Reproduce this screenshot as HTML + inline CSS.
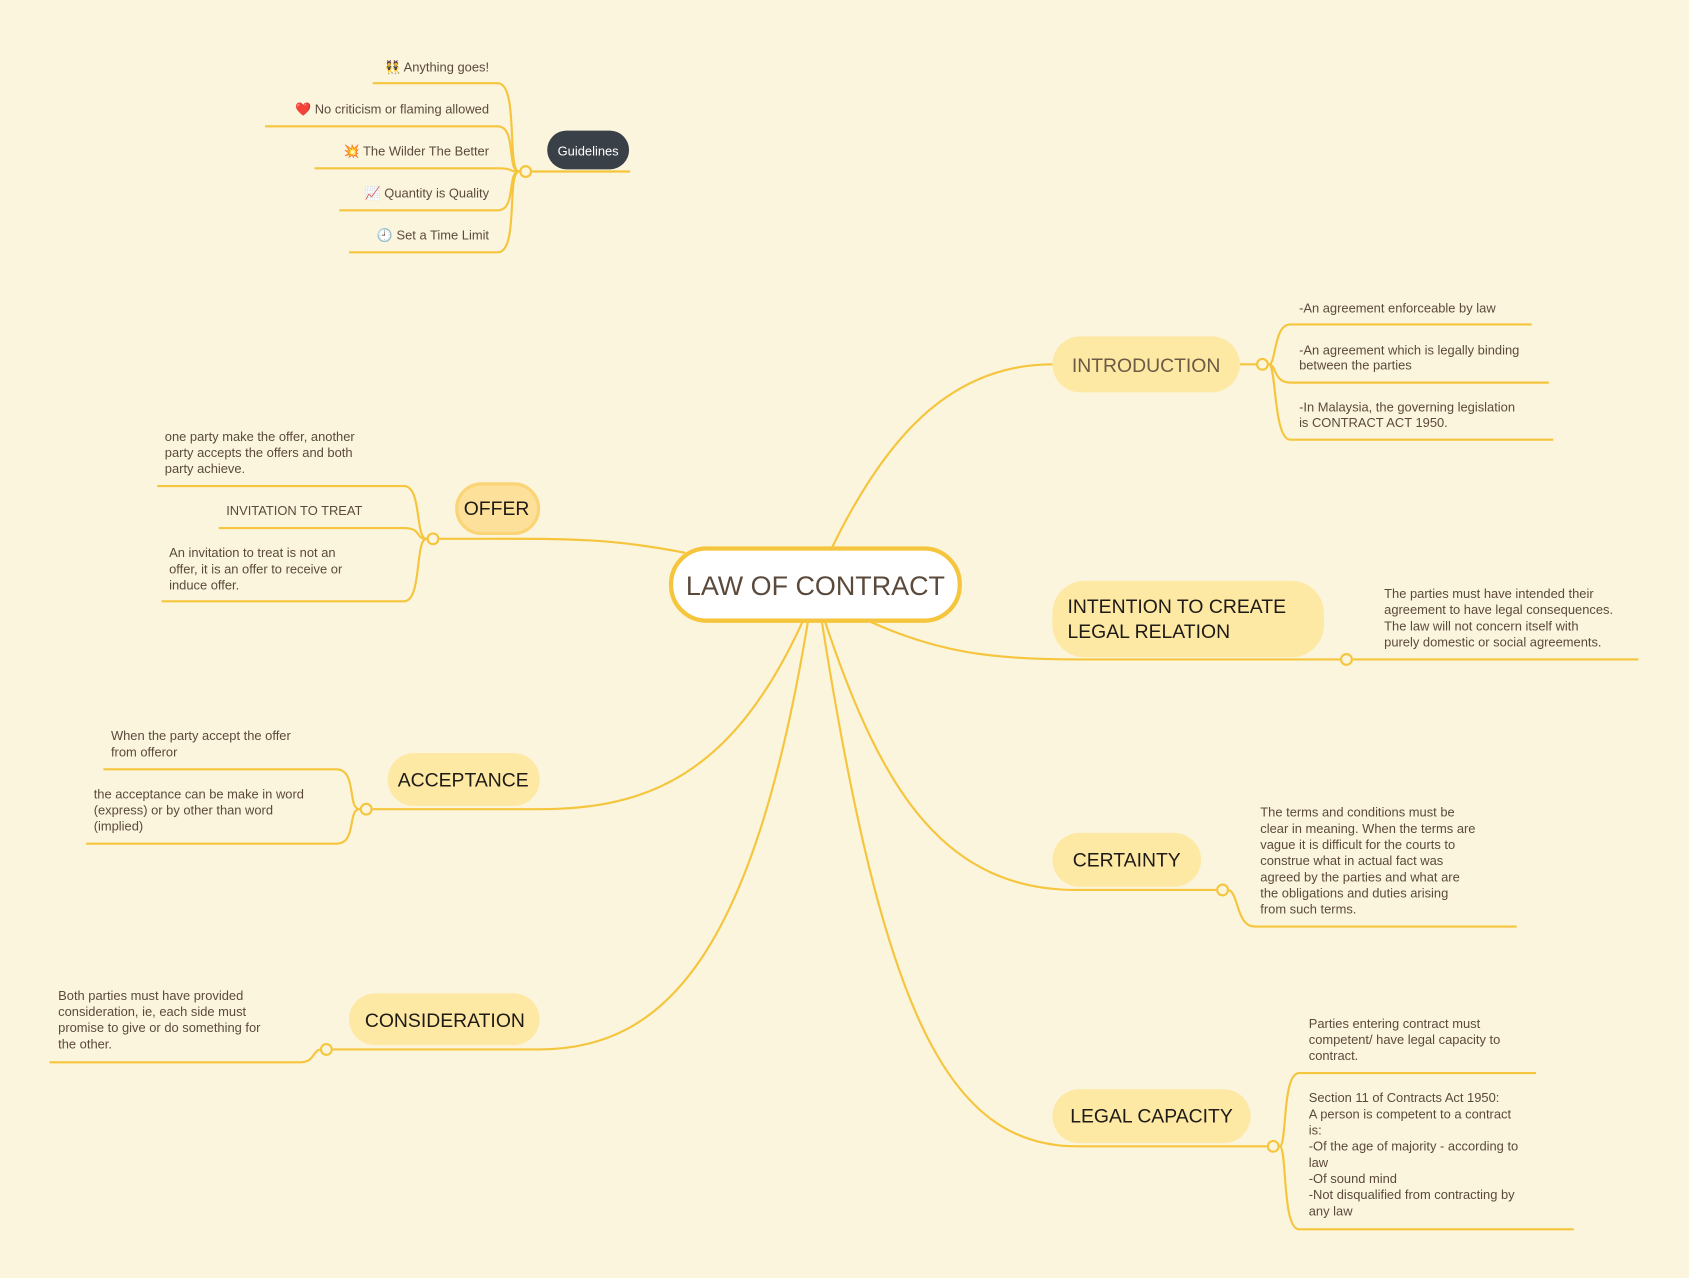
<!DOCTYPE html>
<html><head><meta charset="utf-8"><style>
html,body{margin:0;padding:0;background:#fcf5de;}
svg{display:block}
text{font-family:"Liberation Sans","DejaVu Sans",sans-serif;fill:#5b4a3b}
.s{font-size:12px}
.b{font-size:18px;fill:#1e1a16}
</style></head><body>
<svg width="1689" height="1278" viewBox="0 0 1568 1186" xmlns="http://www.w3.org/2000/svg">
<rect width="1568" height="1186" fill="#fcf5de"/>
<g fill="none" stroke="#f5c53d" stroke-width="2">
<!-- main branches -->
<path d="M772,509 C820,410 880,338 977,338"/>
<path d="M1151,338 L1166,338"/>
<path d="M636,513 C560,498 520,500 408,500"/>
<path d="M808,577 C870,605 920,612 1000,612 L1244,612"/>
<path d="M745,577 C680,720 600,751 501,751 L346,751"/>
<path d="M766,577 C820,740 880,826 1000,826 L1129,826"/>
<path d="M750,577 C700,880 620,974 501,974 L309,974"/>
<path d="M763,577 C820,940 880,1064 1000,1064 L1176,1064"/>
<!-- intro children -->
<path d="M1178,338 C1185,338 1182,301 1198,301 L1422,301"/>
<path d="M1178,338 C1185,338 1182,355 1198,355 L1438,355"/>
<path d="M1178,338 C1185,338 1182,408 1198,408 L1442,408"/>
<!-- offer children -->
<path d="M396,500 C385,500 392,451 375,451 L146,451"/>
<path d="M396,500 C385,500 392,490 375,490 L203,490"/>
<path d="M396,500 C385,500 392,558 375,558 L150,558"/>
<!-- intention child -->
<path d="M1256,612 L1521,612"/>
<!-- acceptance children -->
<path d="M334,751 C322,751 332,714 312,714 L96,714"/>
<path d="M334,751 C322,751 332,783 312,783 L80,783"/>
<!-- certainty child -->
<path d="M1141,826 C1150,830 1148,860 1165,860 L1408,860"/>
<!-- consideration child -->
<path d="M297,974 C290,976 292,986 278,986 L46,986"/>
<!-- legal capacity children -->
<path d="M1188,1064 C1195,1064 1190,996 1206,996 L1426,996"/>
<path d="M1188,1064 C1195,1064 1190,1141 1206,1141 L1461,1141"/>
<!-- guidelines -->
<path d="M494,159 L585,159"/>
<path d="M482,159 C470,159 482,77 462,77 L346,77"/>
<path d="M482,159 C470,159 480,117 462,117 L246,117"/>
<path d="M482,159 C470,159 478,156 462,156 L292,156"/>
<path d="M482,159 C470,159 480,195 462,195 L315,195"/>
<path d="M482,159 C470,159 482,234 462,234 L324,234"/>
</g>
<g fill="#fcf5de" stroke="#f5c53d" stroke-width="2">
<circle cx="1172" cy="338" r="5"/><circle cx="402" cy="500" r="5"/>
<circle cx="1250" cy="612" r="5"/><circle cx="340" cy="751" r="5"/>
<circle cx="1135" cy="826" r="5"/><circle cx="303" cy="974" r="5"/>
<circle cx="1182" cy="1064" r="5"/><circle cx="488" cy="159" r="5"/>
</g>
<!-- center -->
<rect x="623" y="509" width="268" height="67" rx="33" fill="#fff" stroke="#f5c53d" stroke-width="4"/>
<text x="757" y="552" text-anchor="middle" style="font-size:25px;fill:#5b4a3b">LAW OF CONTRACT</text>
<!-- nodes -->
<g fill="#fde8a4">
<rect x="977" y="312" width="174" height="52" rx="26"/>
<rect x="977" y="539" width="252" height="71" rx="30"/>
<rect x="977" y="773" width="138" height="50" rx="25"/>
<rect x="977" y="1011" width="184" height="50" rx="25"/>
<rect x="360" y="699" width="141" height="49" rx="24"/>
<rect x="324" y="922" width="177" height="48" rx="24"/>
</g>
<rect x="424" y="449" width="76" height="46" rx="23" fill="#fde09a" stroke="#fbd476" stroke-width="3"/>
<rect x="508" y="121" width="76" height="36" rx="18" fill="#3a4047"/>
<text x="546" y="144" text-anchor="middle" style="font-size:12px;fill:#fff">Guidelines</text>
<text x="1064" y="345" text-anchor="middle" style="font-size:18px;fill:#6b5a44">INTRODUCTION</text>
<text x="461" y="478" text-anchor="middle" class="b">OFFER</text>
<text x="991" y="569" class="b">INTENTION TO CREATE</text>
<text x="991" y="592" class="b">LEGAL RELATION</text>
<text x="430" y="730" text-anchor="middle" class="b">ACCEPTANCE</text>
<text x="1046" y="804" text-anchor="middle" class="b">CERTAINTY</text>
<text x="413" y="953" text-anchor="middle" class="b">CONSIDERATION</text>
<text x="1069" y="1042" text-anchor="middle" class="b">LEGAL CAPACITY</text>
<!-- guideline texts -->
<g class="s" text-anchor="end">
<text x="454" y="66">👯 Anything goes!</text>
<text x="454" y="105">❤️ No criticism or flaming allowed</text>
<text x="454" y="144">💥 The Wilder The Better</text>
<text x="454" y="183">📈 Quantity is Quality</text>
<text x="454" y="222">🕘 Set a Time Limit</text>
</g>
<g class="s">
<text x="1206" y="290">-An agreement enforceable by law</text>
<text x="1206" y="329">-An agreement which is legally binding</text>
<text x="1206" y="343">between the parties</text>
<text x="1206" y="382">-In Malaysia, the governing legislation</text>
<text x="1206" y="396">is CONTRACT ACT 1950.</text>
<text x="153" y="409">one party make the offer, another</text>
<text x="153" y="424">party accepts the offers and both</text>
<text x="153" y="439">party achieve.</text>
<text x="210" y="478">INVITATION TO TREAT</text>
<text x="157" y="517">An invitation to treat is not an</text>
<text x="157" y="532">offer, it is an offer to receive or</text>
<text x="157" y="547">induce offer.</text>
<text x="1285" y="555">The parties must have intended their</text>
<text x="1285" y="570">agreement to have legal consequences.</text>
<text x="1285" y="585">The law will not concern itself with</text>
<text x="1285" y="600">purely domestic or social agreements.</text>
<text x="103" y="687">When the party accept the offer</text>
<text x="103" y="702">from offeror</text>
<text x="87" y="741">the acceptance can be make in word</text>
<text x="87" y="756">(express) or by other than word</text>
<text x="87" y="771">(implied)</text>
<text x="1170" y="758">The terms and conditions must be</text>
<text x="1170" y="773">clear in meaning. When the terms are</text>
<text x="1170" y="788">vague it is difficult for the courts to</text>
<text x="1170" y="803">construe what in actual fact was</text>
<text x="1170" y="818">agreed by the parties and what are</text>
<text x="1170" y="833">the obligations and duties arising</text>
<text x="1170" y="848">from such terms.</text>
<text x="54" y="928">Both parties must have provided</text>
<text x="54" y="943">consideration, ie, each side must</text>
<text x="54" y="958">promise to give or do something for</text>
<text x="54" y="973">the other.</text>
<text x="1215" y="954">Parties entering contract must</text>
<text x="1215" y="969">competent/ have legal capacity to</text>
<text x="1215" y="984">contract.</text>
<text x="1215" y="1023">Section 11 of Contracts Act 1950:</text>
<text x="1215" y="1038">A person is competent to a contract</text>
<text x="1215" y="1053">is:</text>
<text x="1215" y="1068">-Of the age of majority - according to</text>
<text x="1215" y="1083">law</text>
<text x="1215" y="1098">-Of sound mind</text>
<text x="1215" y="1113">-Not disqualified from contracting by</text>
<text x="1215" y="1128">any law</text>
</g>
</svg>
</body></html>
